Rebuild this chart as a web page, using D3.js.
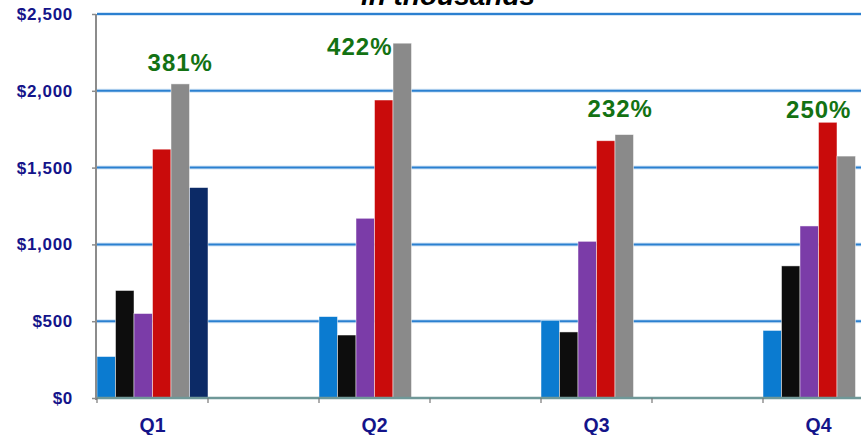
<!DOCTYPE html>
<html><head><meta charset="utf-8">
<script src="https://cdn.jsdelivr.net/npm/d3@7"></script>
<style>html,body{margin:0;padding:0;background:#fff;overflow:hidden}</style>
</head><body><svg id="c" width="861" height="435"></svg>
<script>
(function(){
// ---- data ----
const categories = ["Q1", "gap1", "Q2", "gap2", "Q3", "gap3", "Q4", "gap4"];
const categoryLabels = ["Q1", "", "Q2", "", "Q3", "", "Q4", ""];
const seriesNames = ["s1", "s2", "s3", "s4", "s5", "s6"];
const s1 = [270, 0, 530, 0, 505, 0, 440, 0];
const s2 = [700, 0, 410, 0, 430, 0, 860, 0];
const s3 = [550, 0, 1170, 0, 1020, 0, 1120, 0];
const s4 = [1620, 0, 1940, 0, 1675, 0, 1795, 0];
const s5 = [2045, 0, 2310, 0, 1715, 0, 1575, 0];
const s6 = [1370, 0, 0, 0, 0, 0, 0, 0];
const yTicks = [0, 500, 1000, 1500, 2000, 2500];
const yTickLabels = ["$0", "$500", "$1,000", "$1,500", "$2,000", "$2,500"];
const pctCategories = ["Q1", "Q2", "Q3", "Q4"];
const pctLabels = ["381%", "422%", "232%", "250%"];
const title = "in thousands";

// ---- layout/style ----
const colors = ["#0b7bd0", "#0d0d0d", "#7b3ca8", "#c90b0b", "#8a8a8a", "#0c2a66"];
const svg = d3.select("#c");
const mLeft = 97, mTop = 14, mBottom = 398, bandW = 111;
const x = d3.scaleBand().domain(categories).range([mLeft, mLeft + bandW * categories.length]).padding(0);
const xs = d3.scaleBand().domain(seriesNames).range([0, x.bandwidth()]).padding(0);
const y = d3.scaleLinear().domain([0, 2500]).range([mBottom, mTop]);
const series = [s1, s2, s3, s4, s5, s6];

// gridlines
const grid = svg.append("g");
grid.selectAll("line.glow").data(yTicks.slice(1)).join("line")
  .attr("x1", mLeft).attr("x2", 861).attr("y1", d => y(d)).attr("y2", d => y(d))
  .attr("stroke", "#a9cdef").attr("stroke-width", 4).attr("opacity", 0.5);
grid.selectAll("line.g").data(yTicks.slice(1)).join("line")
  .attr("x1", mLeft).attr("x2", 861).attr("y1", d => y(d)).attr("y2", d => y(d))
  .attr("stroke", "#2b80d0").attr("stroke-width", 2);

// bars
const gb = svg.append("g");
series.forEach((vals, si) => {
  gb.selectAll(null).data(categories.map((c, i) => ({c, v: vals[i]})).filter(d => d.v > 0))
    .join("rect")
    .attr("x", d => x(d.c) + xs(seriesNames[si]))
    .attr("width", xs.bandwidth())
    .attr("y", d => y(d.v))
    .attr("height", d => y(0) - y(d.v))
    .attr("fill", colors[si])
    .attr("stroke", "rgba(255,255,255,0.6)").attr("stroke-width", 0.8);
});

// y axis
const ya = d3.axisLeft(y).tickValues(yTicks).tickFormat((d, i) => yTickLabels[i]).tickSize(4).tickPadding(19);
const gy = svg.append("g").attr("transform", `translate(${mLeft - 1},0)`).call(ya);
gy.select(".domain").attr("stroke", "#8c8c8c").attr("stroke-width", 2).attr("d", `M0,${mTop}V${mBottom + 2}`);
gy.selectAll(".tick line").attr("stroke", "#8c8c8c").attr("stroke-width", 1.5);
gy.selectAll(".tick text").attr("fill", "#14148a").style("font", "bold 17px 'Liberation Sans', Arial, sans-serif")
  .style("letter-spacing", "0.7px");

// x axis
const gx = svg.append("g").attr("transform", `translate(0,${mBottom})`);
gx.append("line").attr("x1", mLeft).attr("x2", 861).attr("y1", 0).attr("y2", 0)
  .attr("stroke", "#6f9898").attr("stroke-width", 2.5);
const bounds = categories.map(c => x(c));
gx.selectAll("line.t").data(bounds).join("line")
  .attr("x1", d => d).attr("x2", d => d).attr("y1", 0).attr("y2", 5)
  .attr("stroke", "#777").attr("stroke-width", 1.2);
const xa = d3.axisBottom(x).tickFormat((d, i) => categoryLabels[i]).tickSize(0).tickPadding(20);
const gx2 = svg.append("g").attr("transform", `translate(0,${mBottom})`).call(xa);
gx2.select(".domain").remove();
gx2.selectAll(".tick text").attr("fill", "#14148a").style("font", "bold 19.5px 'Liberation Sans', Arial, sans-serif");

// percent labels (anchored to a bar of each quarter)
const pctAnchor = [{s: 4, dx: 0, dy: -13, a: "middle"}, {s: 4, dx: -0.5, dy: 12, a: "end", edge: true},
                   {s: 4, dx: -4, dy: -18, a: "middle"}, {s: 3, dx: -9, dy: -4, a: "middle"}];
pctLabels.forEach((t, i) => {
  const c = pctCategories[i], an = pctAnchor[i];
  const sv = series[an.s][categories.indexOf(c)];
  const bx = x(c) + xs(seriesNames[an.s]) + (an.edge ? 0 : xs.bandwidth() / 2);
  svg.append("text").attr("x", bx + an.dx).attr("y", y(sv) + an.dy)
    .attr("text-anchor", an.a).attr("fill", "#137213")
    .style("font", "bold 24px 'Liberation Sans', Arial, sans-serif").style("letter-spacing", "1px")
    .text(t);
});

// title (cut off at top, as in the reference)
svg.append("text").attr("x", 448).attr("y", 5).attr("text-anchor", "middle")
  .style("font", "italic bold 28px 'Liberation Sans', Arial, sans-serif").attr("fill", "#000")
  .text(title);
})();
</script></body></html>
